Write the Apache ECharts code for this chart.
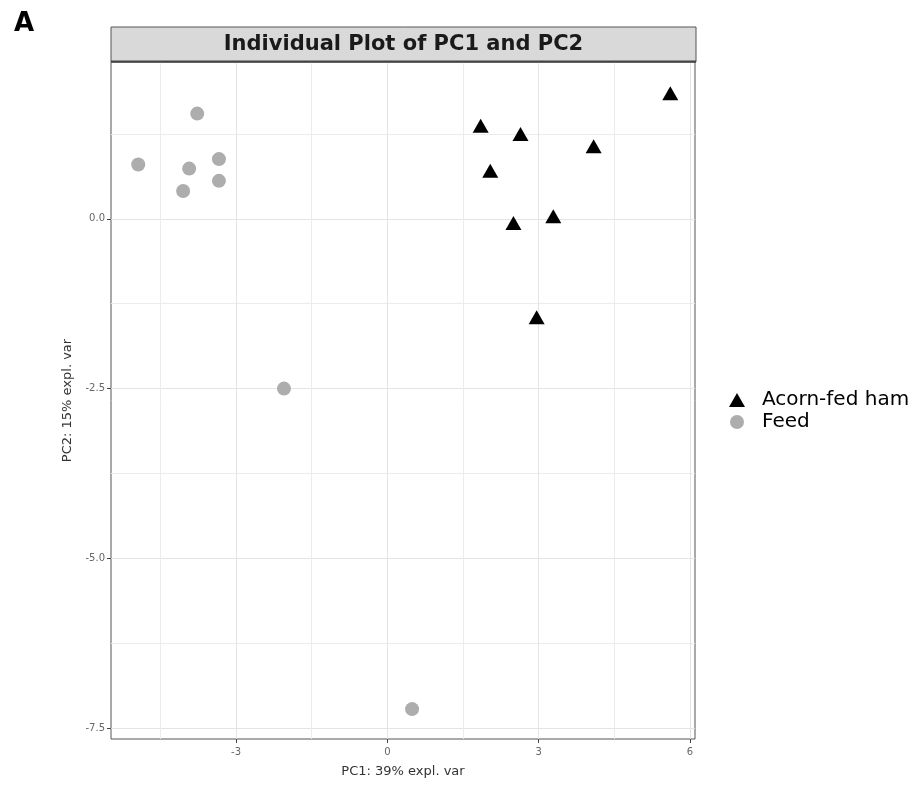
<!DOCTYPE html>
<html>
<head>
<meta charset="utf-8">
<title>Individual Plot of PC1 and PC2</title>
<script src="https://cdn.jsdelivr.net/npm/echarts@6/dist/echarts.min.js"></script>
<style>
  html, body { margin: 0; padding: 0; background: #fff; }
  #chart { width: 920px; height: 787px; }
</style>
</head>
<body>
<div id="chart"></div>
<script>
// 样本分组
const groupNames = ['Acorn-fed ham', 'Feed'];

// PC1 / PC2 得分
const acornPC1 = [5.61, 1.85, 2.64, 4.09, 2.04, 3.29, 2.50, 2.96];
const acornPC2 = [1.85, 1.37, 1.25, 1.07, 0.71, 0.04, -0.06, -1.45];
const feedPC1 = [-4.94, -3.77, -3.93, -4.05, -3.34, -3.34, -2.05, 0.49];
const feedPC2 = [0.80, 1.55, 0.74, 0.41, 0.88, 0.56, -2.50, -7.22];

// 刻度标签
const xTicks = [-3, 0, 3, 6];
const yTicks = [0, -2.5, -5, -7.5];

const FONT = 'DejaVu Sans, Liberation Sans, Arial, sans-serif';

function pairUp(xs, ys) {
  return xs.map((x, i) => [x, ys[i]]);
}

const chart = echarts.init(document.getElementById('chart'));

const option = {
  animation: false,
  backgroundColor: '#fff',
  textStyle: { fontFamily: FONT },
  title: [{
    text: 'A',
    left: 9,
    top: 6,
    textStyle: { fontSize: 26, fontWeight: 'bold', color: '#000', fontFamily: FONT }
  }],
  graphic: [{
    type: 'rect',
    shape: { x: 111, y: 27, width: 585, height: 35 },
    style: { fill: '#d9d9d9', stroke: '#555', lineWidth: 1 },
    z: 10
  }, {
    // 分面标题下沿的深色边
    type: 'line',
    shape: { x1: 111, y1: 61.5, x2: 696, y2: 61.5 },
    style: { stroke: '#444', lineWidth: 2 },
    z: 11
  }, {
    type: 'text',
    x: 403.5,
    y: 45,
    style: {
      text: 'Individual Plot of PC1 and PC2',
      fill: '#1a1a1a',
      font: 'bold 21px ' + FONT,
      align: 'center',
      verticalAlign: 'middle'
    },
    z: 11
  }],
  legend: {
    orient: 'vertical',
    left: 729,
    top: 390,
    padding: 0,
    itemWidth: 16,
    itemHeight: 14,
    itemGap: 2,
    data: groupNames,
    textStyle: { fontSize: 20, lineHeight: 20, color: '#000', padding: [0, 0, 0, 12] }
  },
  grid: {
    left: 111,
    right: 225,
    top: 62,
    bottom: 48,
    show: true,
    borderColor: '#555',
    borderWidth: 1,
    containLabel: false
  },
  xAxis: {
    type: 'value',
    min: -5.48,
    max: 6.10,
    minInterval: 3,
    maxInterval: 3,
    name: 'PC1: 39% expl. var',
    nameLocation: 'middle',
    nameGap: 26,
    nameTextStyle: { fontSize: 13, color: '#333' },
    axisLine: { show: false, onZero: false },
    axisTick: { show: true, length: 4, customValues: xTicks, lineStyle: { color: '#444' } },
    axisLabel: {
      fontSize: 10, color: '#666', margin: 8, customValues: xTicks,
      formatter: v => v.toFixed(0)
    },
    splitLine: { show: true, lineStyle: { color: '#e4e4e4', width: 1 } },
    minorTick: { show: false, splitNumber: 2 },
    minorSplitLine: { show: true, lineStyle: { color: '#ececec', width: 1 } }
  },
  yAxis: {
    type: 'value',
    min: -7.66,
    max: 2.31,
    minInterval: 2.5,
    maxInterval: 2.5,
    name: 'PC2: 15% expl. var',
    nameLocation: 'middle',
    nameGap: 36,
    nameTextStyle: { fontSize: 13, color: '#333' },
    axisLine: { show: false, onZero: false },
    axisTick: { show: true, length: 4, customValues: yTicks, lineStyle: { color: '#444' } },
    axisLabel: {
      fontSize: 10, color: '#666', margin: 6, customValues: yTicks,
      formatter: v => v.toFixed(1)
    },
    splitLine: { show: true, lineStyle: { color: '#e4e4e4', width: 1 } },
    minorTick: { show: false, splitNumber: 2 },
    minorSplitLine: { show: true, lineStyle: { color: '#ececec', width: 1 } }
  },
  series: [{
    name: groupNames[0],
    type: 'scatter',
    symbol: 'triangle',
    symbolSize: [16, 14],
    itemStyle: { color: '#000', opacity: 1 },
    data: pairUp(acornPC1, acornPC2)
  }, {
    name: groupNames[1],
    type: 'scatter',
    symbol: 'circle',
    symbolSize: 14,
    itemStyle: { color: '#adadad', opacity: 1 },
    data: pairUp(feedPC1, feedPC2)
  }]
};

chart.setOption(option);
</script>
</body>
</html>
